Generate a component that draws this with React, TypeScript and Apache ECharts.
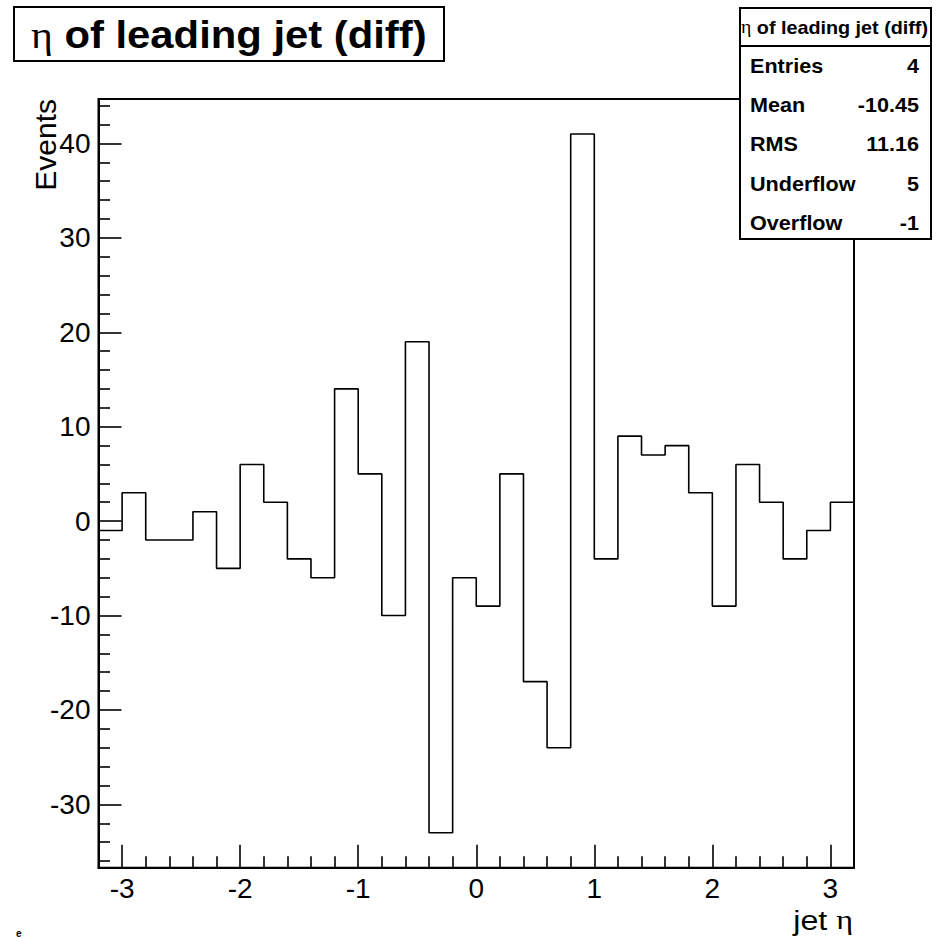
import React, { useEffect, useRef } from "react";
import * as echarts from "echarts";

// ---- data ----
const BIN_LOW_EDGES = [
  -3.2, -3.0, -2.8, -2.6, -2.4, -2.2, -2.0, -1.8, -1.6, -1.4, -1.2, -1.0, -0.8, -0.6, -0.4, -0.2,
  0.0, 0.2, 0.4, 0.6, 0.8, 1.0, 1.2, 1.4, 1.6, 1.8, 2.0, 2.2, 2.4, 2.6, 2.8, 3.0,
];
const X_MIN = -3.2;
const X_MAX = 3.2;
const EVENTS = [
  -1, 3, -2, -2, 1, -5, 6, 2, -4, -6, 14, 5, -10, 19, -33, -6,
  -9, 5, -17, -24, 41, -4, 9, 7, 8, 3, -9, 6, 2, -4, -1, 2,
];
const Y_MIN = -36.7;
const Y_MAX = 44.7;
const X_MAJOR_TICKS = [-3, -2, -1, 0, 1, 2, 3];
const X_MINOR_TICKS = [
  -2.8, -2.6, -2.4, -2.2, -1.8, -1.6, -1.4, -1.2, -0.8, -0.6, -0.4, -0.2,
  0.2, 0.4, 0.6, 0.8, 1.2, 1.4, 1.6, 1.8, 2.2, 2.4, 2.6, 2.8,
];
const Y_MAJOR_TICKS = [-30, -20, -10, 0, 10, 20, 30, 40];
const Y_MINOR_TICKS = [
  -36, -34, -32, -28, -26, -24, -22, -18, -16, -14, -12, -8, -6, -4, -2,
  2, 4, 6, 8, 12, 14, 16, 18, 22, 24, 26, 28, 32, 34, 36, 38, 42, 44,
];
const TITLE = "of leading jet (diff)";
const X_TITLE = "jet";
const Y_TITLE = "Events";
const STATS_LABELS = ["Entries", "Mean", "RMS", "Underflow", "Overflow"];
const STATS_VALUES = ["4", "-10.45", "11.16", "5", "-1"];

const FONT = '"Liberation Sans", Arial, Helvetica, sans-serif';
const SERIF = '"Liberation Serif", "DejaVu Serif", serif';

export default function App() {
  const ref = useRef<HTMLDivElement>(null);

  useEffect(() => {
    if (!ref.current) return;
    const chart = echarts.init(ref.current, null, { renderer: "svg" });

    const histData: number[][] = BIN_LOW_EDGES.map((x, i) => [x, EVENTS[i]]);
    histData.push([X_MAX, EVENTS[EVENTS.length - 1]]);

    const black = "#000";
    const gridLeft = 98.5;
    const gridTop = 99;
    const gridW = 755.5;
    const gridH = 768.7;

    const statsRows: any[] = [];
    STATS_LABELS.forEach((lab, i) => {
      const y = 65.5 + i * 39.3;
      statsRows.push({
        type: "text",
        x: 750,
        y,
        scaleX: 1.08,
        style: {
          text: lab,
          fill: black,
          fontSize: 20,
          fontWeight: "bold",
          fontFamily: FONT,
          align: "left",
          verticalAlign: "middle",
        },
      });
      statsRows.push({
        type: "text",
        x: 919,
        y,
        scaleX: 1.08,
        style: {
          text: STATS_VALUES[i],
          fill: black,
          fontSize: 20,
          fontWeight: "bold",
          fontFamily: FONT,
          align: "right",
          verticalAlign: "middle",
        },
      });
    });

    const option: any = {
      animation: false,
      backgroundColor: "#fff",
      grid: {
        left: gridLeft,
        top: gridTop,
        width: gridW,
        height: gridH,
        show: true,
        borderColor: black,
        borderWidth: 2,
        backgroundColor: "transparent",
        containLabel: false,
      },
      xAxis: [
        {
          type: "value",
          min: X_MIN,
          max: X_MAX,
          position: "bottom",
          axisLine: { show: true, onZero: false, lineStyle: { color: black, width: 2 } },
          axisTick: {
            show: true,
            inside: true,
            length: 23,
            customValues: X_MAJOR_TICKS,
            lineStyle: { color: black, width: 1.6 },
          },
          axisLabel: {
            show: true,
            customValues: X_MAJOR_TICKS,
            margin: 7,
            fontSize: 28,
            color: black,
            fontFamily: FONT,
          },
          splitLine: { show: false },
        },
        {
          type: "value",
          min: X_MIN,
          max: X_MAX,
          position: "bottom",
          axisLine: { show: false, onZero: false },
          axisTick: {
            show: true,
            inside: true,
            length: 11.5,
            customValues: X_MINOR_TICKS,
            lineStyle: { color: black, width: 1.6 },
          },
          axisLabel: { show: false },
          splitLine: { show: false },
        },
      ],
      yAxis: [
        {
          type: "value",
          min: Y_MIN,
          max: Y_MAX,
          position: "left",
          axisLine: { show: true, onZero: false, lineStyle: { color: black, width: 2 } },
          axisTick: {
            show: true,
            inside: true,
            length: 23,
            customValues: Y_MAJOR_TICKS,
            lineStyle: { color: black, width: 1.6 },
          },
          axisLabel: {
            show: true,
            customValues: Y_MAJOR_TICKS,
            margin: 8,
            fontSize: 28,
            color: black,
            fontFamily: FONT,
          },
          splitLine: { show: false },
        },
        {
          type: "value",
          min: Y_MIN,
          max: Y_MAX,
          position: "left",
          axisLine: { show: false, onZero: false },
          axisTick: {
            show: true,
            inside: true,
            length: 11.5,
            customValues: Y_MINOR_TICKS,
            lineStyle: { color: black, width: 1.6 },
          },
          axisLabel: { show: false },
          splitLine: { show: false },
        },
      ],
      series: [
        {
          type: "line",
          xAxisIndex: 0,
          yAxisIndex: 0,
          step: "end",
          symbol: "none",
          showSymbol: false,
          lineStyle: { color: black, width: 1.6 },
          data: histData,
          silent: true,
        },
      ],
      graphic: [
        {
          type: "group",
          z: 100,
          children: [
            {
              type: "rect",
              shape: { x: 14, y: 7, width: 430, height: 54 },
              style: { fill: "#fff", stroke: black, lineWidth: 2 },
            },
            {
              type: "text",
              x: 31,
              y: 35,
              scaleX: 1.1,
              style: {
                text: "{g|η} " + TITLE,
                fill: black,
                fontSize: 38,
                fontWeight: "bold",
                fontFamily: FONT,
                align: "left",
                verticalAlign: "middle",
                rich: {
                  g: { fontSize: 38, fontWeight: "normal", fontFamily: SERIF, fill: black },
                },
              },
            },
            {
              type: "rect",
              shape: { x: 740, y: 8, width: 191, height: 231 },
              style: { fill: "#fff", stroke: black, lineWidth: 2 },
            },
            {
              type: "line",
              shape: { x1: 740, y1: 46, x2: 931, y2: 46 },
              style: { stroke: black, lineWidth: 2 },
            },
            {
              type: "text",
              x: 928,
              y: 27,
              scaleX: 1.04,
              style: {
                text: "{g|η} " + TITLE,
                fill: black,
                fontSize: 19,
                fontWeight: "bold",
                fontFamily: FONT,
                align: "right",
                verticalAlign: "middle",
                rich: {
                  g: { fontSize: 19, fontWeight: "normal", fontFamily: SERIF, fill: black },
                },
              },
            },
            ...statsRows,
            {
              type: "text",
              x: 45,
              y: 99,
              rotation: Math.PI / 2,
              style: {
                text: Y_TITLE,
                fill: black,
                fontSize: 30,
                fontFamily: FONT,
                align: "right",
                verticalAlign: "middle",
              },
            },
            {
              type: "text",
              x: 853,
              y: 920,
              scaleX: 1.15,
              style: {
                text: X_TITLE + " {g|η}",
                fill: black,
                fontSize: 28,
                fontFamily: FONT,
                align: "right",
                verticalAlign: "middle",
                rich: {
                  g: { fontSize: 28, fontFamily: SERIF, fill: black },
                },
              },
            },
            {
              type: "text",
              x: 16,
              y: 928,
              style: {
                text: "e",
                fill: black,
                fontSize: 10,
                fontWeight: "bold",
                fontFamily: FONT,
                align: "left",
                verticalAlign: "top",
              },
            },
          ],
        },
      ],
    };

    chart.setOption(option);
    return () => {
      chart.dispose();
    };
  }, []);

  return (
    <div
      ref={ref}
      style={{ position: "absolute", left: 0, top: 0, width: 949, height: 938, background: "#fff" }}
    />
  );
}
